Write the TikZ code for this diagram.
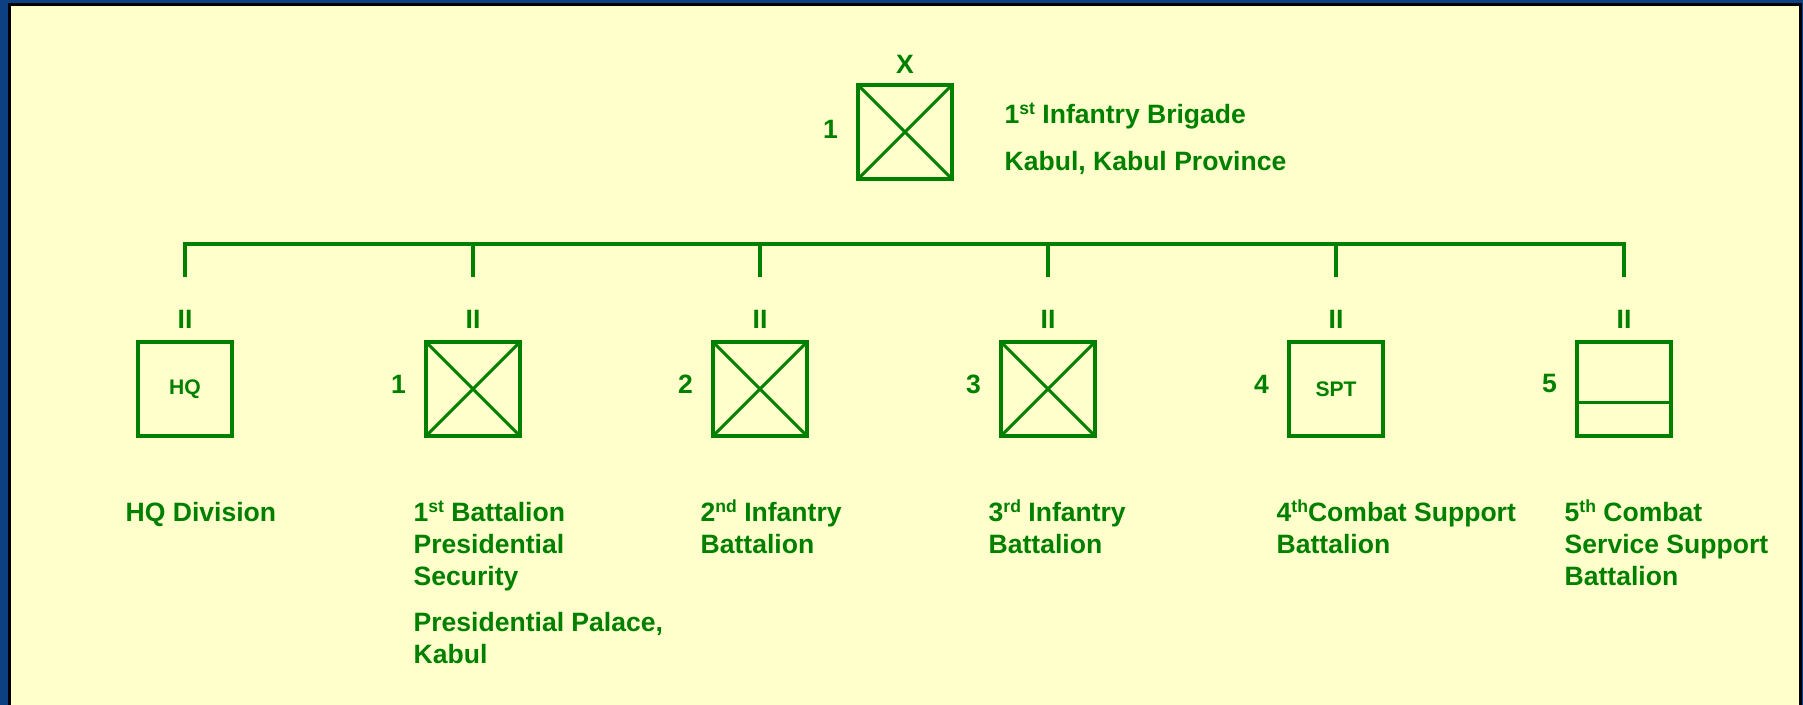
\documentclass[tikz,border=0pt]{standalone}
\usepackage{fontspec}
\setmainfont{Liberation Sans}
\usetikzlibrary{positioning,calc}

\definecolor{unitgreen}{RGB}{0,128,0}
\definecolor{panelyellow}{RGB}{255,255,204}
\definecolor{slideblue}{RGB}{13,64,130}

\newcommand{\ord}[1]{\raisebox{2.6pt}[0pt][0pt]{\fontsize{5}{5}\selectfont #1}}

\begin{document}
\begin{tikzpicture}[x=0.1mm, y=-0.1mm, text=unitgreen,
font=\bfseries\fontsize{7.55}{9.1}\selectfont,
unit/.style={draw=unitgreen, line width=0.4mm, minimum width=9.4mm,
  minimum height=9.4mm, inner sep=0pt, outer sep=0pt,
  font=\bfseries\fontsize{6}{7}\selectfont},
cross/.style={draw=unitgreen, line width=0.3mm},
bus/.style={draw=unitgreen, line width=0.33mm},
tag/.style={inner sep=0pt},
caption/.style={anchor=north west, align=left, inner sep=0pt}]
        \useasboundingbox (0,0) rectangle (1803,705);
        \fill [slideblue] (0,0) rectangle (1803,705);
        \filldraw [fill=panelyellow, draw=black, line width=0.3mm] (9,5) rectangle (1800,720);

        % brigade
        \node [unit] (brig) at (905,132) {};
        \draw [cross] (brig.north west) -- (brig.south east) (brig.north east) -- (brig.south west);
        \node [tag, above=1.05mm of brig] (brig-ech) {X};
        \node [tag, left=1.95mm of brig, yshift=0.3mm] (brig-num) {1};
        \node [caption] (brig-txt) at (1004,104) {1\ord{st} Infantry Brigade\\[1.5mm]Kabul, Kabul Province};

        % battalions
        \node [unit] (hq) at (185,389) {HQ};
        \node [unit] (bn1) at (473,389) {};
        \node [unit] (bn2) at (760,389) {};
        \node [unit] (bn3) at (1048,389) {};
        \node [unit] (bn4) at (1336,389) {SPT};
        \node [unit] (bn5) at (1624,389) {};
        \foreach \u in {bn1,bn2,bn3}
            \draw [cross] (\u.north west) -- (\u.south east) (\u.north east) -- (\u.south west);
        \draw [cross] ($(bn5.north west)!0.645!(bn5.south west)$) -- ($(bn5.north east)!0.645!(bn5.south east)$);

        \node [tag, left=1.95mm of bn1, yshift=0.5mm] (bn1-num) {1};
        \node [tag, left=1.95mm of bn2, yshift=0.5mm] (bn2-num) {2};
        \node [tag, left=1.95mm of bn3, yshift=0.5mm] (bn3-num) {3};
        \node [tag, left=1.95mm of bn4, yshift=0.5mm] (bn4-num) {4};
        \node [tag, left=1.95mm of bn5, yshift=0.5mm] (bn5-num) {5};

        % echelon marks and bus
        \foreach \u in {hq,bn1,bn2,bn3,bn4,bn5} {
            \node [tag, above=1.25mm of \u] (\u-ech) {II};
            \coordinate (\u-bus) at ($(\u.north)+(0,-98)$);
            \coordinate (\u-drop) at ($(\u.north)+(0,-65)$);
        }
        \draw [bus] (hq-drop) -- (hq-bus) -- (bn5-bus) -- (bn5-drop);
        \foreach \u in {bn1,bn2,bn3,bn4}
            \draw [bus] (\u-bus) -- (\u-drop);

        % captions
        \node [caption] (hq-txt) at ($(hq.south)+(-60,66)$) {HQ Division};
        \node [caption] (bn1-txt) at ($(bn1.south)+(-60,66)$) {1\ord{st} Battalion\\Presidential\\Security\\[1.4mm]Presidential Palace,\\Kabul};
        \node [caption] (bn2-txt) at ($(bn2.south)+(-60,66)$) {2\ord{nd} Infantry\\Battalion};
        \node [caption] (bn3-txt) at ($(bn3.south)+(-60,66)$) {3\ord{rd} Infantry\\Battalion};
        \node [caption] (bn4-txt) at ($(bn4.south)+(-60,66)$) {4\ord{th}Combat Support\\Battalion};
        \node [caption] (bn5-txt) at ($(bn5.south)+(-60,66)$) {5\ord{th} Combat\\Service Support\\Battalion};
    \end{tikzpicture}
\end{document}
